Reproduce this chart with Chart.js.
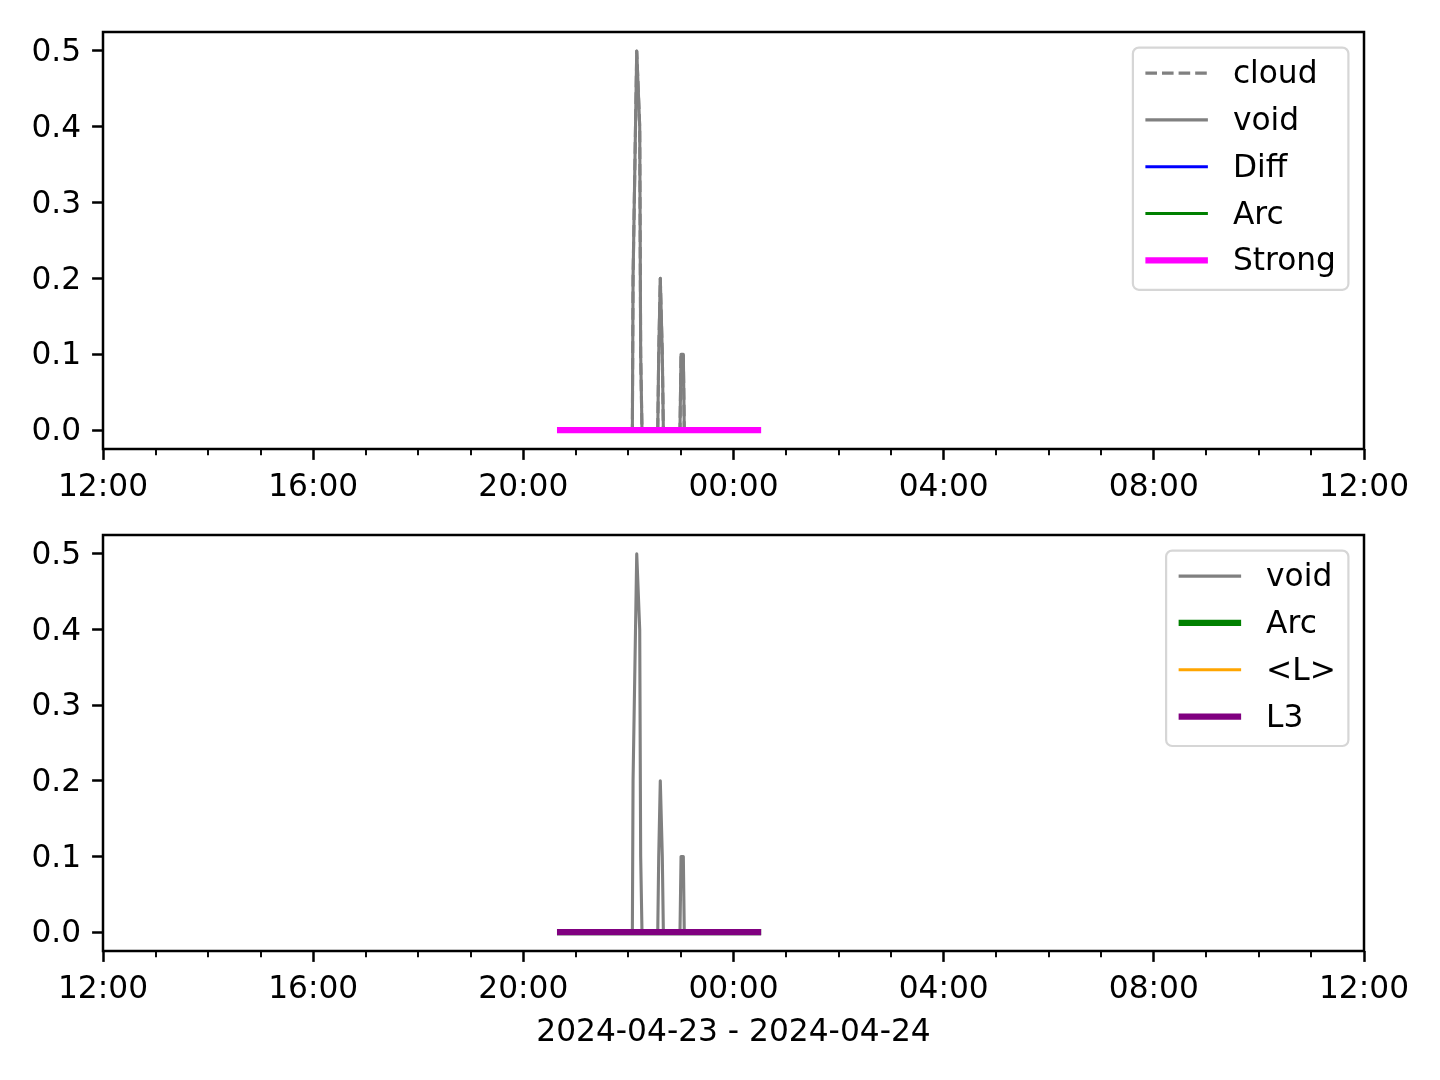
<!DOCTYPE html>
<html>
<head>
<meta charset="utf-8">
<script src="https://cdn.jsdelivr.net/npm/chart.js@4.4.1/dist/chart.umd.min.js"></script>
<style>
body { margin: 0; background: #fff; }
canvas { position: absolute; left: 0; }
#top { top: 0; }
#bottom { top: 500px; }
</style>
</head>
<body>
<canvas id="top" width="1440" height="500"></canvas>
<canvas id="bottom" width="1440" height="580"></canvas>
<script>
// void / cloud samples (UTC)
var voidTimes = [
  "2024-04-23 20:42:00", "2024-04-23 22:04:30", "2024-04-23 22:05:18", "2024-04-23 22:09:30",
  "2024-04-23 22:12:54", "2024-04-23 22:14:00", "2024-04-23 22:15:30", "2024-04-23 22:33:30",
  "2024-04-23 22:34:36", "2024-04-23 22:36:24", "2024-04-23 22:38:42", "2024-04-23 22:39:54",
  "2024-04-23 22:58:54", "2024-04-23 23:00:06", "2024-04-23 23:02:42", "2024-04-23 23:03:48",
  "2024-04-24 00:28:00"
]
var voidValues  = [0, 0, 0.2, 0.5, 0.4, 0.1, 0, 0, 0.1, 0.2, 0.1, 0, 0, 0.1, 0.1, 0, 0]
var cloudValues = [0, 0, 0.2, 0.5, 0.4, 0.1, 0, 0, 0.1, 0.2, 0.1, 0, 0, 0.1, 0.1, 0, 0]

// flag series, all flat on zero
var flagTimes = ["2024-04-23 20:42:00", "2024-04-24 00:28:00"]
var diffValues = [0, 0]
var arcValues = [0, 0]
var strongValues = [0, 0]
var meanLValues = [0, 0]
var l3Values = [0, 0]

var xTickHours = [12, 16, 20, 24, 28, 32, 36]
var xTickLabels = ["12:00", "16:00", "20:00", "00:00", "04:00", "08:00", "12:00"]
var yTicks = [0, 0.1, 0.2, 0.3, 0.4, 0.5]
var xTitle = "2024-04-23 - 2024-04-24"

var FONT = "'DejaVu Sans', sans-serif"
var FS = 31.25

function toHours(s) {
    var d = Date.parse(s.replace(' ', 'T') + 'Z')
    return (d - Date.UTC(2024, 3, 23)) / 3600000
}

function points(times, values) {
    var out = []
    for (var i = 0; i < times.length; i++) {
        out.push({ x: toHours(times[i]), y: values[i] })
    }
    return out
}

function line(label, times, values, color, width, dash) {
    return {
        label: label,
        data: points(times, values),
        borderColor: color,
        backgroundColor: color,
        borderWidth: width,
        borderDash: dash || [],
        borderCapStyle: dash ? 'butt' : 'square',
        borderJoinStyle: 'round',
        pointRadius: 0,
        tension: 0,
        fill: false
    }
}

// box around the axes + minor hour ticks + matplotlib-like legend
var framePlugin = {
    id: 'frame',
    afterDraw: function(chart) {
        var ctx = chart.ctx
        var a = chart.chartArea
        var xs = chart.scales.x
        ctx.save()
        ctx.strokeStyle = '#000'
        ctx.lineWidth = 1.9
        for (var h = 13; h < 36; h++) {
            if (h % 4 == 0) continue
            var px = Math.round(xs.getPixelForValue(h))
            ctx.beginPath()
            ctx.moveTo(px, a.bottom)
            ctx.lineTo(px, a.bottom + 6.25)
            ctx.stroke()
        }
        ctx.lineWidth = 2.5
        ctx.strokeRect(a.left, a.top, a.right - a.left, a.bottom - a.top)

        var ds = chart.data.datasets
        ctx.font = FS + 'px ' + FONT
        var maxW = 0
        for (var i = 0; i < ds.length; i++) maxW = Math.max(maxW, ctx.measureText(ds[i].label).width)
        var w = 12.5 + 62.5 + 25 + maxW + 12.5
        var hgt = 55 + (ds.length - 1) * 46.8
        var right = a.right - 15.6
        var left = right - w
        var top = a.top + 15.6
        ctx.beginPath()
        ctx.roundRect(left, top, w, hgt, 6)
        ctx.fillStyle = 'rgba(255,255,255,0.8)'
        ctx.fill()
        ctx.strokeStyle = '#d6d6d6'
        ctx.lineWidth = 2.2
        ctx.stroke()
        for (var i = 0; i < ds.length; i++) {
            var cy = top + 25.5 + i * 46.8
            ctx.beginPath()
            ctx.strokeStyle = ds[i].borderColor
            ctx.lineWidth = ds[i].borderWidth
            ctx.setLineDash(ds[i].borderDash)
            ctx.lineCap = 'butt'
            ctx.moveTo(left + 12.5, cy)
            ctx.lineTo(left + 75, cy)
            ctx.stroke()
            ctx.setLineDash([])
            ctx.fillStyle = '#000'
            ctx.textBaseline = 'middle'
            ctx.textAlign = 'left'
            ctx.fillText(ds[i].label, left + 100, cy + 2)
        }
        ctx.restore()
    }
}

function makeChart(id, datasets, padTop, axisHeight, title) {
    // later datasets on top, like matplotlib
    for (var i = 0; i < datasets.length; i++) datasets[i].order = datasets.length - i

    var tickFont = { family: FONT, size: FS }
    return new Chart(document.getElementById(id), {
        type: 'line',
        data: { datasets: datasets },
        plugins: [framePlugin],
        options: {
            responsive: false,
            animation: false,
            events: [],
            layout: { padding: { top: padTop, right: 76, left: 0, bottom: 0 } },
            plugins: { legend: { display: false }, tooltip: { enabled: false } },
            scales: {
                x: {
                    type: 'linear',
                    min: 12,
                    max: 36,
                    afterBuildTicks: function(s) { s.ticks = xTickHours.map(function(v) { return { value: v } }) },
                    afterFit: function(s) { s.height = axisHeight },
                    ticks: {
                        autoSkip: false, maxRotation: 0, color: '#000', font: tickFont, padding: 9,
                        callback: function(v, i) { return xTickLabels[i] }
                    },
                    grid: { drawOnChartArea: false, drawTicks: true, tickLength: 10.9, tickWidth: 2.5, tickColor: '#000' },
                    border: { display: false },
                    title: { display: !!title, text: title || '', color: '#000', font: tickFont, padding: { top: 0, bottom: 28 } }
                },
                y: {
                    min: -0.025,
                    max: 0.525,
                    afterBuildTicks: function(s) { s.ticks = yTicks.map(function(v) { return { value: v } }) },
                    afterFit: function(s) { s.width = 103 },
                    ticks: {
                        color: '#000', font: tickFont, padding: 11, labelOffset: 2,
                        callback: function(v) { return v.toFixed(1) }
                    },
                    grid: { drawOnChartArea: false, drawTicks: true, tickLength: 10.9, tickWidth: 2.5, tickColor: '#000' },
                    border: { display: false }
                }
            }
        }
    })
}

makeChart('top', [
    line('cloud', voidTimes, cloudValues, '#808080', 3.1, [11.6, 5]),
    line('void', voidTimes, voidValues, '#808080', 3.1),
    line('Diff', flagTimes, diffValues, '#0000ff', 3.1),
    line('Arc', flagTimes, arcValues, '#008000', 3.1),
    line('Strong', flagTimes, strongValues, '#ff00ff', 6.25)
], 32, 51, null)

makeChart('bottom', [
    line('void', voidTimes, voidValues, '#808080', 3.1),
    line('Arc', flagTimes, arcValues, '#008000', 6.25),
    line('<L>', flagTimes, meanLValues, '#ffa500', 3.1),
    line('L3', flagTimes, l3Values, '#800080', 6.25)
], 35, 129, xTitle)
</script>
</body>
</html>
